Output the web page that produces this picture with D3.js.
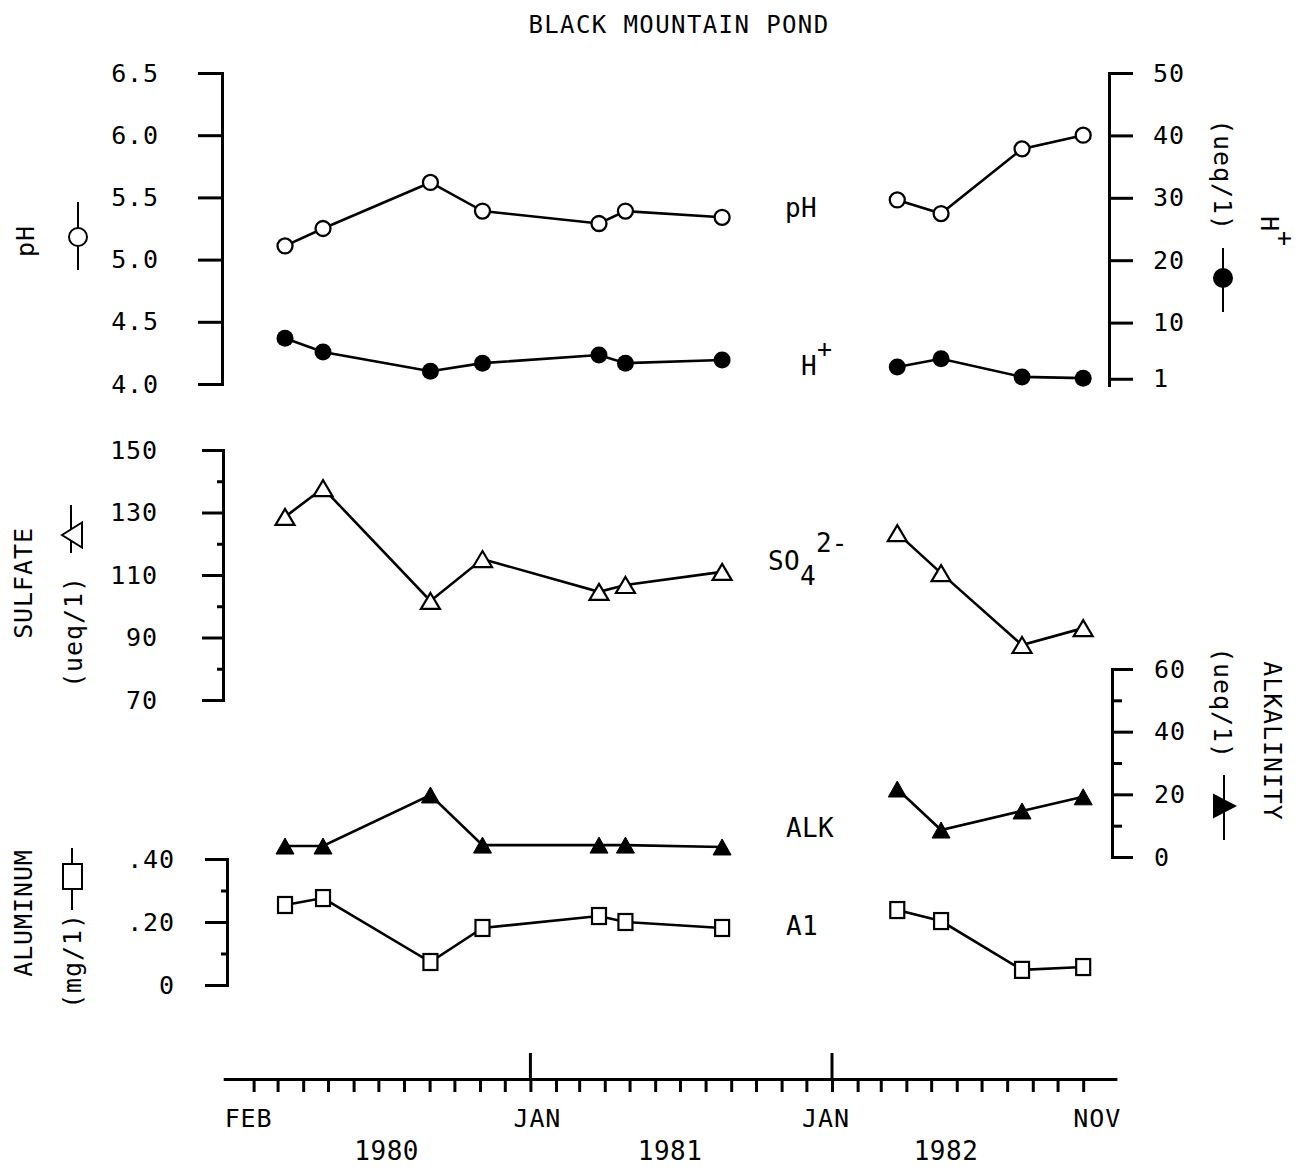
<!DOCTYPE html>
<html><head><meta charset="utf-8">
<script src="https://cdn.jsdelivr.net/npm/d3@7"></script>
<style>
body{margin:0;background:#fff}
svg text{font-family:"DejaVu Sans Mono",monospace;fill:#000}
</style></head><body>
<svg id="c" width="1309" height="1167"></svg>
<script>
// ---------------- DATA ----------------
const sampleDates = ["1980-03-10","1980-04-25","1980-09-02","1980-11-04","1981-03-25","1981-04-26","1981-08-21","1982-03-21","1982-05-13","1982-08-19","1982-11-01"];
const segmentBreak = 7; // first field period = first 7 samples
const pHValues      = [5.11, 5.25, 5.62, 5.39, 5.29, 5.39, 5.34, 5.48, 5.37, 5.89, 6.00];
const hValues       = [7.5, 5.3, 2.2, 3.5, 4.8, 3.5, 4.0, 2.9, 4.2, 1.3, 1.1];
const sulfateValues = [128.6, 137.8, 101.7, 115.1, 104.6, 106.8, 111.0, 123.4, 110.6, 87.6, 93.0];
const alkValues     = [3.5, 3.5, 19.8, 3.8, 3.8, 3.8, 3.2, 21.7, 8.6, 14.7, 19.2];
const alValues      = [0.254, 0.276, 0.073, 0.181, 0.219, 0.200, 0.181, 0.238, 0.203, 0.048, 0.057];

const pHTicks = [4.0, 4.5, 5.0, 5.5, 6.0, 6.5];
const hTicks = [1, 10, 20, 30, 40, 50];
const sulfateTicks = [70, 90, 110, 130, 150];
const sulfateMinorTicks = [80, 100, 120, 140];
const alkTicks = [0, 20, 40, 60];
const alkMinorTicks = [10, 30, 50];
const alTicks = [0, 0.2, 0.4];
const alMinorTicks = [0.1, 0.3];
const monthLabelDates = ["1980-02-01","1981-01-01","1982-01-01","1982-11-01"];
const monthLabelTexts = ["FEB","JAN","JAN","NOV"];
const yearLabelDates = ["1980-07-11","1981-06-19","1982-05-19"];
const yearLabelTexts = ["1980","1981","1982"];
const majorMonthDates = ["1981-01-01","1982-01-01"];
const title = "BLACK MOUNTAIN POND";

// ---------------- SETUP ----------------
const parse = d3.timeParse("%Y-%m-%d");
const dates = sampleDates.map(parse);
const svg = d3.select("#c");
const FONT = "DejaVu Sans Mono";

const x = d3.scaleTime().domain([parse("1980-01-01"), parse("1982-01-01")]).range([228, 832]);
const yPH = d3.scaleLinear().domain([4.0, 6.5]).range([384, 73]);
const yH = d3.scaleLinear().domain([0, 50]).range([385, 73]);
const ySO4 = d3.scaleLinear().domain([70, 150]).range([700, 450]);
const yAlk = d3.scaleLinear().domain([0, 60]).range([857, 669]);
const yAl = d3.scaleLinear().domain([0, 0.4]).range([985, 859]);

function styleAxis(g, showText) {
  g.attr("font-family", FONT).attr("font-size", 25);
  g.select(".domain").attr("stroke", "#000").attr("stroke-width", 3).attr("stroke-linecap", "square");
  g.selectAll(".tick line").attr("stroke", "#000").attr("stroke-width", 3);
  if (showText) g.selectAll(".tick text").attr("fill", "#000").attr("letter-spacing", 0.9);
  else g.selectAll(".tick text").remove();
}

// title
svg.append("text").attr("x", 679).attr("y", 33).attr("text-anchor", "middle")
  .attr("font-size", 24).attr("letter-spacing", 1.4).text(title);

// ---------------- AXES ----------------
svg.append("g").attr("transform", "translate(222,0)")
  .call(d3.axisLeft(yPH).tickValues(pHTicks).tickSize(24).tickSizeOuter(0).tickPadding(39).tickFormat(d3.format(".1f")))
  .call(g => styleAxis(g, true));
svg.append("g").attr("transform", "translate(1109,0)")
  .call(d3.axisRight(yH).tickValues(hTicks).tickSize(24).tickSizeOuter(0).tickPadding(20).tickFormat(d3.format("d")))
  .call(g => styleAxis(g, true));
svg.append("g").attr("transform", "translate(223,0)")
  .call(d3.axisLeft(ySO4).tickValues(sulfateTicks).tickSize(21).tickSizeOuter(0).tickPadding(44).tickFormat(d3.format("d")))
  .call(g => styleAxis(g, true));
svg.append("g").attr("transform", "translate(223,0)")
  .call(d3.axisLeft(ySO4).tickValues(sulfateMinorTicks).tickSize(6).tickSizeOuter(0))
  .call(g => { styleAxis(g, false); g.select(".domain").remove(); });
svg.append("g").attr("transform", "translate(1112,0)")
  .call(d3.axisRight(yAlk).tickValues(alkTicks).tickSize(21).tickSizeOuter(0).tickPadding(21).tickFormat(d3.format("d")))
  .call(g => styleAxis(g, true));
svg.append("g").attr("transform", "translate(1112,0)")
  .call(d3.axisRight(yAlk).tickValues(alkMinorTicks).tickSize(10).tickSizeOuter(0))
  .call(g => { styleAxis(g, false); g.select(".domain").remove(); });
svg.append("g").attr("transform", "translate(227,0)")
  .call(d3.axisLeft(yAl).tickValues(alTicks).tickSize(22).tickSizeOuter(0).tickPadding(30)
    .tickFormat(v => v === 0 ? "0" : d3.format(".2f")(v).slice(1)))
  .call(g => styleAxis(g, true));
svg.append("g").attr("transform", "translate(227,0)")
  .call(d3.axisLeft(yAl).tickValues(alMinorTicks).tickSize(6).tickSizeOuter(0))
  .call(g => { styleAxis(g, false); g.select(".domain").remove(); });

// Time axis
const tStart = parse("1979-12-28"), tEnd = parse("1982-12-10");
const xAxisScale = x.copy().domain([tStart, tEnd]).range([x(tStart), x(tEnd)]);
const monthTicks = d3.timeMonth.range(parse("1980-02-01"), parse("1982-11-02"));
svg.append("g").attr("transform", "translate(0,1079)")
  .call(d3.axisBottom(xAxisScale).tickValues(monthTicks).tickSize(13).tickSizeOuter(0).tickFormat(""))
  .call(g => styleAxis(g, false));
svg.append("g").selectAll("line").data(majorMonthDates.map(parse)).join("line")
  .attr("x1", d => x(d)).attr("x2", d => x(d)).attr("y1", 1079).attr("y2", 1053)
  .attr("stroke", "#000").attr("stroke-width", 3);
const monthNudge = [-5, 7, -6, 14];
svg.append("g").selectAll("text").data(monthLabelTexts).join("text")
  .attr("x", (d, i) => x(parse(monthLabelDates[i])) + monthNudge[i]).attr("y", 1127)
  .attr("text-anchor", "middle").attr("font-size", 25).attr("letter-spacing", 0.9).text(d => d);
svg.append("g").selectAll("text").data(yearLabelTexts).join("text")
  .attr("x", (d, i) => x(parse(yearLabelDates[i]))).attr("y", 1160)
  .attr("text-anchor", "middle").attr("font-size", 26).attr("letter-spacing", 0.5).text(d => d);

// ---------------- SERIES ----------------
function triPath(cx, cy, w, h, dir) {
  if (dir === "up") return `M${cx},${cy - h/2}L${cx + w/2},${cy + h/2}L${cx - w/2},${cy + h/2}Z`;
  if (dir === "left") return `M${cx - w/2},${cy}L${cx + w/2},${cy - h/2}L${cx + w/2},${cy + h/2}Z`;
  return `M${cx + w/2},${cy}L${cx - w/2},${cy - h/2}L${cx - w/2},${cy + h/2}Z`;
}

function drawSeries(values, yScale, marker) {
  const pts = values.map((v, i) => ({ d: dates[i], v }));
  const segs = [pts.slice(0, segmentBreak), pts.slice(segmentBreak)];
  const line = d3.line().x(p => x(p.d)).y(p => yScale(p.v));
  const g = svg.append("g");
  g.selectAll("path.seg").data(segs).join("path").attr("class", "seg")
    .attr("d", line).attr("fill", "none").attr("stroke", "#000").attr("stroke-width", 2.6);
  const m = g.selectAll("g.pt").data(pts).join("g").attr("class", "pt");
  m.each(function(p) {
    const el = d3.select(this), cx = x(p.d), cy = yScale(p.v);
    if (marker === "openCircle")
      el.append("circle").attr("cx", cx).attr("cy", cy).attr("r", 7.5).attr("fill", "#fff").attr("stroke", "#000").attr("stroke-width", 2.3);
    else if (marker === "filledCircle")
      el.append("circle").attr("cx", cx).attr("cy", cy).attr("r", 8.5).attr("fill", "#000");
    else if (marker === "openTriangle")
      el.append("path").attr("d", triPath(cx, cy, 19, 16, "up")).attr("fill", "#fff").attr("stroke", "#000").attr("stroke-width", 2.2).attr("stroke-linejoin", "miter");
    else if (marker === "filledTriangle")
      el.append("path").attr("d", triPath(cx, cy, 18, 16, "up")).attr("fill", "#000").attr("stroke", "#000").attr("stroke-width", 1);
    else if (marker === "openSquare")
      el.append("rect").attr("x", cx - 7).attr("y", cy - 8).attr("width", 14).attr("height", 16).attr("fill", "#fff").attr("stroke", "#000").attr("stroke-width", 2.2);
  });
}
drawSeries(pHValues, yPH, "openCircle");
drawSeries(hValues, yH, "filledCircle");
drawSeries(sulfateValues, ySO4, "openTriangle");
drawSeries(alkValues, yAlk, "filledTriangle");
drawSeries(alValues, yAl, "openSquare");

// ---------------- INLINE LABELS ----------------
const lab = svg.append("g").attr("font-size", 26).attr("letter-spacing", 0.3);
lab.append("text").attr("x", 785).attr("y", 217).text("pH");
const hl = lab.append("text").attr("x", 801).attr("y", 375);
hl.append("tspan").text("H");
hl.append("tspan").attr("dy", -18).attr("font-size", 25).text("+");
const so = lab.append("text").attr("x", 768).attr("y", 570);
so.append("tspan").text("SO");
so.append("tspan").attr("dy", 15).text("4");
so.append("tspan").attr("dy", -33).text("2-");
lab.append("text").attr("x", 786).attr("y", 837).text("ALK");
lab.append("text").attr("x", 786).attr("y", 935).text("A1");

// ---------------- AXIS TITLES ----------------
function vText(cx, cy, angle, txt) {
  return svg.append("text").attr("transform", `translate(${cx},${cy}) rotate(${angle})`)
    .attr("text-anchor", "middle").attr("dominant-baseline", "central")
    .attr("font-size", 25).attr("letter-spacing", 0.9).text(txt);
}
function vLine(cx, y1, y2) {
  svg.append("line").attr("x1", cx).attr("x2", cx).attr("y1", y1).attr("y2", y2).attr("stroke", "#000").attr("stroke-width", 2);
}
vText(25, 241, -90, "pH");
vLine(78, 202, 270);
svg.append("circle").attr("cx", 78).attr("cy", 237).attr("r", 9).attr("fill", "#fff").attr("stroke", "#000").attr("stroke-width", 2);
vText(1222, 175, 90, "(ueq/1)");
const ht = svg.append("text").attr("transform", "translate(1270,231) rotate(90)")
  .attr("text-anchor", "middle").attr("dominant-baseline", "central").attr("font-size", 25);
ht.append("tspan").text("H");
ht.append("tspan").attr("dy", -16).text("+");
vLine(1223, 248, 312);
svg.append("circle").attr("cx", 1223).attr("cy", 278).attr("r", 10).attr("fill", "#000");
vText(23, 583, -90, "SULFATE");
vText(73, 632, -90, "(ueq/1)");
vLine(71, 505, 553);
svg.append("path").attr("d", triPath(72, 535, 20, 25, "left")).attr("fill", "#fff").attr("stroke", "#000").attr("stroke-width", 2);
vText(1272, 741, 90, "ALKALINITY");
vText(1222, 703, 90, "(ueq/1)");
vLine(1224, 775, 840);
svg.append("path").attr("d", triPath(1225, 806, 24, 25, "right")).attr("fill", "#000");
vText(23, 913, -90, "ALUMINUM");
vText(72, 961, -90, "(mg/1)");
vLine(72, 848, 910);
svg.append("rect").attr("x", 63).attr("y", 864).attr("width", 19).attr("height", 25).attr("fill", "#fff").attr("stroke", "#000").attr("stroke-width", 2);
</script>
</body></html>
